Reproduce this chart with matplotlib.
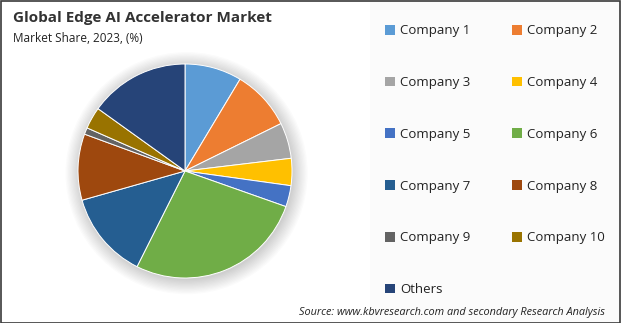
import matplotlib.pyplot as plt
from matplotlib.patches import Circle, Rectangle

labels = ["Company 1", "Company 2", "Company 3", "Company 4", "Company 5",
          "Company 6", "Company 7", "Company 8", "Company 9", "Company 10", "Others"]
shares = [8.6, 9.1, 5.4, 4.1, 3.2, 27.0, 13.2, 10.0, 1.0, 3.3, 15.1]
colors = ["#5B9BD5", "#ED7D31", "#A5A5A5", "#FFC000", "#4472C4", "#70AD47",
          "#255E91", "#9E480E", "#636363", "#997300", "#264478"]

W, H = 621, 323
fig = plt.figure(figsize=(W / 100, H / 100), dpi=100)
fig.patch.set_facecolor("white")

# light panel behind the legend
fig.patches.append(Rectangle((370 / W, 0), 1 - 370 / W, 1, transform=fig.transFigure,
                             facecolor="#fbfbfb", edgecolor="none", zorder=0))
# outer frame
fig.patches.append(Rectangle((0.5 / W, 0.5 / H), 1 - 1.5 / W, 1 - 1.5 / H, transform=fig.transFigure,
                             facecolor="none", edgecolor="#3a3a3a", linewidth=1.2, zorder=5))

cx, cy, r = 185, H - 171, 107
ax = fig.add_axes([(cx - r) / W, (cy - r) / H, 2 * r / W, 2 * r / H])

# soft shadow
for i in range(12):
    ax.add_patch(Circle((0.015, -0.02), 1.0 + i * 0.012, facecolor="black",
                        alpha=0.014, edgecolor="none", zorder=0, clip_on=False))

wedges, _ = ax.pie(shares, colors=colors, startangle=90, counterclock=False,
                   wedgeprops=dict(edgecolor="white", linewidth=0.7))
for w in wedges:
    w.set_zorder(2)
ax.set_xlim(-1, 1)
ax.set_ylim(-1, 1)
ax.set_aspect("equal")
ax.axis("off")

fig.text(13 / W, 1 - 18 / H, "Global Edge AI Accelerator Market", fontsize=11,
         fontweight="bold", family="Open Sans", color="#333333", va="center")
fig.text(13 / W, 1 - 38 / H, "Market Share, 2023, (%)", fontsize=8.5,
         family="Open Sans", color="#222222", va="center")
fig.text(605 / W, 1 - 313 / H, "Source: www.kbvresearch.com and secondary Research Analysis",
         fontsize=7.85, family="Open Sans", style="italic", color="#222222",
         ha="right", va="center")

order = [0, 2, 4, 6, 8, 10, 1, 3, 5, 7, 9]
leg = fig.legend([wedges[i] for i in order], [labels[i] for i in order], ncol=2,
                 loc="upper left", bbox_to_anchor=(380 / W, 1 - 19 / H),
                 frameon=False, prop={"family": "Open Sans", "size": 9.5},
                 handlelength=0.75, handleheight=0.75, handletextpad=0.35,
                 labelspacing=2.94, columnspacing=3.2, borderaxespad=0)
for t in leg.get_texts():
    t.set_color("#222222")
for h in leg.legend_handles:
    h.set_edgecolor("none")

fig.savefig("out.png", dpi=100)
